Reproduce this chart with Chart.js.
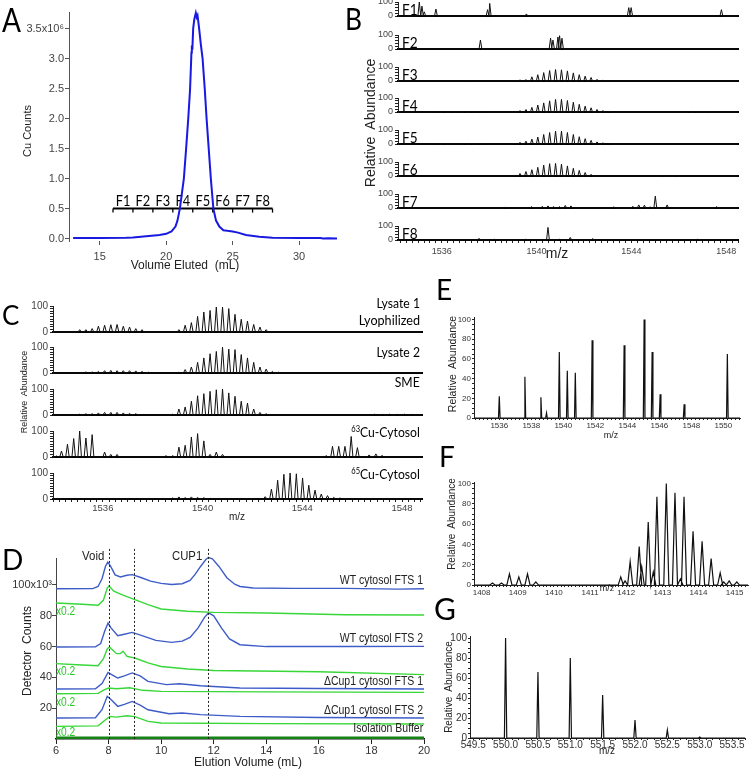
<!DOCTYPE html>
<html>
<head>
<meta charset="utf-8">
<title>Cu fractions and spectra</title>
<script src="https://cdn.jsdelivr.net/npm/chart.js@4.4.1/dist/chart.umd.min.js"></script>
<style>
  html, body { margin: 0; padding: 0; background: #fff; overflow: hidden; }
  #fig { position: relative; width: 749px; height: 772px; font-family: "Liberation Sans", Arial, sans-serif; color: #222; }
  #fig canvas { position: absolute; }
  .t { position: absolute; line-height: 1; white-space: nowrap; }
  .lato { font-family: Lato, "Open Sans", sans-serif; color: #000; }
  sup { font-size: 0.62em; vertical-align: 0; position: relative; top: -0.55em; line-height: 0; }
</style>
</head>
<body>
<div id="fig"></div>
<script>
// ---------- panel A: Cu elution profile ----------
const aElution = [[13.0,0.01],[15.0,0.01],[17.0,0.015],[17.5,0.02],[18.5,0.04],[19.5,0.06],[20.0,0.08],[20.4,0.12],[20.7,0.2],[20.85,0.3],[21.03,0.5],[21.18,0.75],[21.33,1.0],[21.5,1.5],[21.66,2.0],[21.8,2.5],[21.9,3.1],[21.93,3.22],[21.97,3.15],[22.03,3.5],[22.12,3.66],[22.23,3.76],[22.3,3.69],[22.36,3.72],[22.48,3.5],[22.6,3.25],[22.74,3.0],[22.9,2.5],[23.04,2.0],[23.2,1.5],[23.36,1.0],[23.55,0.5],[23.75,0.3],[24.0,0.2],[24.3,0.14],[24.6,0.13],[25.0,0.12],[25.4,0.1],[26.0,0.06],[27.0,0.03],[28.0,0.015],[30.0,0.01],[31.6,0.01],[31.8,0.0],[32.2,0.005],[32.85,0.0]];
const aXTicks = [15, 20, 25, 30];
const aYTicks = [0, 0.5, 1, 1.5, 2, 2.5, 3, 3.5];
const fracNames = ['F1', 'F2', 'F3', 'F4', 'F5', 'F6', 'F7', 'F8'];
const fracEdges = [16, 17.5, 19, 20.5, 22, 23.5, 25, 26.5, 28];

// ---------- panel B: spectra of fractions F1-F8 (m/z, %) ----------
const bF1 = [[1535.05,100],[1535.16,70],[1535.26,30],[1535.75,50],[1537.93,45],[1538.02,90],[1539.57,15],[1543.89,60],[1543.99,60],[1547.8,45]];
const bF2 = [[1537.63,64],[1540.59,77],[1540.69,64],[1540.9,86],[1540.97,95],[1541.07,77]];
const bF3 = [[1537.2,4],[1539.05,3],[1539.30,8],[1539.55,10],[1539.80,30],[1540.05,45],[1540.30,60],[1540.55,75],[1540.80,82],[1541.05,80],[1541.30,72],[1541.55,58],[1541.80,45],[1542.05,35],[1542.30,25],[1542.55,12],[1542.80,6],[1546.1,2]];
const bF4 = [[1535.81,4],[1536.10,4],[1536.39,4],[1536.68,4],[1536.97,4],[1537.26,4],[1537.55,4],[1537.84,4],[1539.30,10],[1539.55,18],[1539.80,33],[1540.05,50],[1540.30,65],[1540.55,80],[1540.80,90],[1541.05,90],[1541.30,82],[1541.55,70],[1541.80,55],[1542.05,42],[1542.30,30],[1542.55,18],[1542.80,10],[1543.05,5],[1546.45,3],[1546.70,3],[1546.95,3],[1547.20,3]];
const bF5 = [[1535.81,3],[1536.10,3],[1536.39,3],[1536.68,3],[1536.97,3],[1537.26,3],[1537.55,3],[1537.84,3],[1539.05,5],[1539.30,12],[1539.55,20],[1539.80,35],[1540.05,50],[1540.30,68],[1540.55,82],[1540.80,92],[1541.05,92],[1541.30,82],[1541.55,68],[1541.80,52],[1542.05,38],[1542.30,26],[1542.55,15],[1542.80,8],[1543.05,4]];
const bF6 = [[1539.05,5],[1539.30,18],[1539.55,32],[1539.80,45],[1540.05,62],[1540.30,78],[1540.55,88],[1540.80,90],[1541.05,85],[1541.30,72],[1541.55,55],[1541.80,40],[1542.05,25],[1542.30,12],[1545.3,3],[1545.9,3]];
const bF7 = [[1538.7,5],[1539.78,10],[1540.24,12],[1540.48,15],[1540.72,10],[1540.97,10],[1541.21,18],[1541.45,15],[1543.26,8],[1544.06,12],[1544.31,22],[1544.55,20],[1544.79,8],[1545.01,85],[1545.51,22],[1547.6,10]];
const bF8 = [[1537.57,12],[1538.23,5],[1539.53,5],[1540.48,90],[1540.97,5],[1541.42,18],[1542.37,10],[1546.79,5]];
const bRows = ['F1', 'F2', 'F3', 'F4', 'F5', 'F6', 'F7', 'F8'];
const bXLabels = [1536, 1540, 1544, 1548];

// ---------- panel C: lysates and cytosols ----------
const cLysate1 = [[1535.07,9],[1535.32,9],[1535.57,13],[1535.82,22],[1536.07,26],[1536.32,28],[1536.57,29],[1536.82,22],[1537.07,19],[1537.32,13],[1537.57,9],[1539.05,9],[1539.30,26],[1539.55,36],[1539.80,60],[1540.05,77],[1540.30,83],[1540.55,96],[1540.80,96],[1541.05,90],[1541.30,68],[1541.55,49],[1541.80,42],[1542.05,29],[1542.30,19],[1542.55,9]];
const cLysate2 = [[1535.32,4],[1535.57,4],[1535.82,6],[1536.07,9],[1536.32,10],[1536.57,9],[1536.82,9],[1537.07,9],[1537.32,8],[1537.57,6],[1537.82,3],[1539.05,3],[1539.30,13],[1539.55,23],[1539.80,41],[1540.05,58],[1540.30,74],[1540.55,83],[1540.80,99],[1541.05,92],[1541.30,90],[1541.55,71],[1541.80,58],[1542.05,41],[1542.30,23],[1542.55,15],[1542.80,6],[1543.05,3],[1546.80,2],[1547.10,2],[1547.40,2],[1547.70,2],[1548.00,2],[1548.30,2],[1548.60,2]];
const cSME = [[1535.07,3],[1535.32,5],[1535.57,5],[1535.82,8],[1536.07,10],[1536.32,10],[1536.57,10],[1536.82,8],[1537.07,6],[1537.32,5],[1538.80,3],[1539.05,23],[1539.30,31],[1539.55,53],[1539.80,74],[1540.05,82],[1540.30,91],[1540.55,97],[1540.80,100],[1541.05,85],[1541.30,72],[1541.55,53],[1541.80,46],[1542.05,23],[1542.30,10],[1542.55,5],[1546.90,3],[1547.20,3],[1547.50,3],[1547.80,3],[1548.10,3],[1548.40,3]];
const c63Cu = [[1534.14,4],[1534.34,23],[1534.58,49],[1534.83,71],[1535.07,100],[1535.32,73],[1535.57,86],[1536.07,19],[1536.32,10],[1536.57,10],[1538.53,5],[1538.80,5],[1539.05,38],[1539.30,45],[1539.55,77],[1539.80,90],[1540.05,62],[1540.30,10],[1540.55,19],[1540.80,10],[1544.96,5],[1545.21,41],[1545.46,41],[1545.71,41],[1545.96,79],[1546.21,36],[1546.68,8],[1546.95,12],[1547.20,6]];
const c65Cu = [[1538.80,4],[1539.05,8],[1539.30,5],[1539.55,8],[1539.80,6],[1540.05,5],[1540.30,3],[1542.26,3],[1542.51,9],[1542.76,38],[1543.01,72],[1543.26,95],[1543.51,100],[1543.76,97],[1544.01,81],[1544.26,53],[1544.51,34],[1544.76,19],[1545.01,13],[1545.26,6],[1545.51,4]];
const cXLabels = [1536, 1540, 1544, 1548];

// ---------- panel D: SEC traces (x10^3 counts) ----------
const dWT1 = [[6,97.5],[7.4,97.6],[7.6,99],[7.75,104],[7.88,112],[7.97,114.8],[8.08,112],[8.25,106.5],[8.45,105.2],[8.7,106.3],[8.9,106.7],[9.2,105],[9.6,102.5],[10.0,101],[10.4,100.3],[10.8,100.8],[11.1,103],[11.3,107],[11.5,112],[11.7,116.5],[11.8,117.8],[11.95,117],[12.2,112],[12.5,104.7],[12.8,100.5],[13.0,99],[13.5,98],[15,97.8],[17,97.8],[19,97.3],[20,97.5]];
const dWT1cu = [[6,88.3],[7,87.5],[7.6,86.8],[7.8,90],[7.95,98],[8.02,99.3],[8.2,96],[8.5,93.7],[9.0,90.5],[9.5,87.2],[10.0,84.4],[11.0,82.9],[12.0,82.2],[14.0,81.8],[17.0,80.7],[20.0,80.5]];
const dWT2 = [[6,59.7],[7.5,59.8],[7.7,62],[7.85,70],[7.98,75.3],[8.1,72],[8.35,67],[8.6,68],[8.9,69.2],[9.3,67],[9.8,64],[10.4,62.7],[10.8,63.5],[11.1,66],[11.4,72],[11.65,79],[11.8,81.8],[12.0,80],[12.3,72],[12.6,65],[13.0,61.2],[14,60],[17,60],[20,60.1]];
const dWT2cu = [[6,48.9],[7.0,48],[7.6,47.6],[7.8,52],[7.95,58.5],[8.03,59.7],[8.3,55.4],[8.45,55.5],[8.55,57],[8.7,53.6],[9.0,52.6],[9.5,49.4],[10.0,47.1],[11.0,45.4],[12.0,44.5],[16.0,43.7],[20.0,41.8]];
const dCup1a = [[6,32.5],[7.5,32.6],[7.75,36],[7.98,43.2],[8.15,41.5],[8.35,39.6],[8.6,41],[8.9,42.9],[9.2,41],[9.5,37.4],[10.2,35.3],[10.7,35.9],[11.5,34.6],[13,33.1],[16,32.8],[20,32.5]];
const dCup1aCu = [[6,29.4],[7.6,29.6],[7.85,32],[8.0,33.1],[8.3,32.6],[8.8,33.3],[9.3,31.6],[10,30.9],[14,30.6],[20,30.3]];
const dCup1b = [[6,13.6],[7.5,13.8],[7.75,19],[7.95,27.7],[8.1,25.5],[8.35,21.2],[8.6,22.5],[8.9,24.4],[9.2,22],[9.5,19],[10.3,16.4],[10.8,16.9],[11.5,15.8],[13,14.7],[16,14],[20,13.6]];
const dCup1bCu = [[6,8.2],[7.6,8.5],[7.85,12],[8.05,14.7],[8.3,14.2],[8.7,15.1],[9.0,14.5],[9.5,11.4],[10,10.4],[14,10],[20,9.7]];
const dBuffer = [[6,0.8],[20,0.8]];
const dMarks = [8.0, 8.95, 11.8];
const dXTicks = [6, 8, 10, 12, 14, 16, 18, 20];
const dYTicks = [20, 40, 60, 80, 100];
const dNames = ['WT cytosol FTS 1', 'WT cytosol FTS 2', 'ΔCup1 cytosol FTS 1', 'ΔCup1 cytosol FTS 2', 'Isolation Buffer'];

// ---------- panels E, F, G ----------
const ePeaks = [[1536.0,22],[1537.6,42],[1538.6,21],[1538.95,5],[1539.75,67],[1540.25,48],[1540.75,46],[1541.8,79],[1543.8,74],[1545.05,100],[1545.55,67],[1546.05,24],[1547.55,14],[1550.25,65]];
const eXLabels = [1536, 1538, 1540, 1542, 1544, 1546, 1548, 1550];
const fPeaks = [[1408.3,2],[1408.55,2],[1408.77,11],[1409.03,8],[1409.27,11],[1409.5,3],[1411.85,8],[1411.97,4],[1412.11,23],[1412.36,38],[1412.43,18],[1412.61,62],[1412.75,13],[1412.85,87],[1413.11,100],[1413.35,91],[1413.5,6],[1413.6,87],[1413.85,53],[1414.1,43],[1414.35,26],[1414.6,12],[1414.7,3],[1414.85,4],[1415.06,3]];
const fXLabels = [1408, 1409, 1410, 1411, 1412, 1413, 1414, 1415];
const gPeaks = [[550.0,100],[550.5,66],[551.0,80],[551.5,43],[552.0,18],[552.5,8],[553.0,1]];
const gXLabels = [549.5, 550.0, 550.5, 551.0, 551.5, 552.0, 552.5, 553.0, 553.5];
const abundTicks = [0, 20, 40, 60, 80, 100];

// ---------- helpers ----------
const fig = document.getElementById('fig');
const SANS = '"Liberation Sans", Arial, sans-serif';

function label(html, x, base, size, o = {}) {
  const d = document.createElement('div');
  d.className = 't' + (o.lato ? ' lato' : '');
  d.innerHTML = html;
  d.style.fontSize = size + 'px';
  d.style.top = (base - (o.lato ? 0.887 : 0.847) * size) + 'px';
  if (o.color) d.style.color = o.color;
  const sx = o.sx ? ` scaleX(${o.sx})` : '';
  if (o.align === 'right') {
    d.style.right = (749 - x) + 'px';
    d.style.transformOrigin = 'right center';
    d.style.transform = sx;
  } else if (o.align === 'center') {
    d.style.left = x + 'px';
    d.style.transform = 'translateX(-50%)' + sx;
  } else {
    d.style.left = x + 'px';
    d.style.transformOrigin = 'left center';
    d.style.transform = sx;
  }
  fig.appendChild(d);
}

function vlabel(html, cx, cy, size) {
  const d = document.createElement('div');
  d.className = 't';
  d.innerHTML = html;
  d.style.fontSize = size + 'px';
  d.style.left = cx + 'px';
  d.style.top = cy + 'px';
  d.style.transform = 'translate(-50%,-50%) rotate(-90deg)';
  fig.appendChild(d);
}

function steps(lo, hi, step) {
  const out = [];
  for (let v = lo; v <= hi + 1e-9; v += step) out.push(+v.toFixed(4));
  return out;
}
const isIn = (list, v) => list.some(m => Math.abs(m - v) < 1e-6);

// peaks -> narrow spikes on a zero baseline
function spikes(peaks, w, lo, hi) {
  const pts = [{ x: lo, y: 0 }];
  peaks.slice().sort((a, b) => a[0] - b[0]).forEach(([mz, ab]) => {
    pts.push({ x: mz - w, y: 0 }, { x: mz, y: ab }, { x: mz + w, y: 0 });
  });
  pts.push({ x: hi, y: 0 });
  return pts;
}
function spectrum(peaks, w, range, lw) {
  return { data: spikes(peaks, w, range[0], range[1]), borderColor: '#111', borderWidth: lw || 1, pointRadius: 0, clip: false };
}
function trace(pairs, color, lw) {
  return { data: pairs.map(([x, y]) => ({ x, y })), borderColor: color, borderWidth: lw || 1.4, pointRadius: 0, clip: false };
}

function linAxis(min, max, tickVals, labelVals, fmt, o = {}) {
  return {
    type: 'linear', min, max,
    afterBuildTicks: s => { s.ticks = tickVals.map(v => ({ value: v })); },
    ticks: {
      autoSkip: false, maxRotation: 0, minRotation: 0,
      padding: o.pad !== undefined ? o.pad : 2,
      color: o.color || '#333',
      font: { size: o.size || 9, family: SANS },
      callback: v => isIn(labelVals, v) ? fmt(v) : ''
    },
    grid: { display: true, drawOnChartArea: false, drawTicks: true, tickLength: o.tick !== undefined ? o.tick : 3, color: o.tickColor || '#222', lineWidth: 1 },
    border: { display: o.border !== false, color: o.borderColor || '#222', width: o.bw || 1 }
  };
}
function bareX(range, bw) {
  return { type: 'linear', min: range[0], max: range[1], ticks: { display: false }, grid: { display: false }, border: { display: true, color: '#000', width: bw } };
}

// box: chart area (l,t,r,b) plus y-axis width, x-axis height and paddings
function chartAt(box, cfg) {
  const left = box.l - box.yW, top = box.t - box.pt;
  const w = Math.round(box.r + box.pr - left), h = Math.round(box.b + box.xH + box.pb - top);
  const cv = document.createElement('canvas');
  cv.width = w; cv.height = h;
  cv.style.left = left + 'px'; cv.style.top = top + 'px';
  cv.style.width = w + 'px'; cv.style.height = h + 'px';
  fig.appendChild(cv);
  const zeroPad = s => { s.paddingLeft = s.paddingRight = s.paddingTop = s.paddingBottom = 0; };
  cfg.x.afterFit = s => { s.height = box.xH; zeroPad(s); };
  cfg.y.afterFit = s => { s.width = box.yW; zeroPad(s); };
  return new Chart(cv, {
    type: 'line',
    data: { datasets: cfg.datasets },
    options: {
      responsive: false, animation: false, devicePixelRatio: 1,
      layout: { padding: { left: 0, top: box.pt, right: box.pr, bottom: box.pb } },
      plugins: { legend: { display: false }, tooltip: { enabled: false } },
      elements: { point: { radius: 0 }, line: { tension: 0 } },
      scales: { x: cfg.x, y: cfg.y }
    },
    plugins: cfg.plugins || []
  });
}

// ---------- A ----------
const fractionBracket = {
  id: 'fractionBracket',
  beforeDatasetsDraw(chart) {
    const { ctx, scales: { x, y } } = chart;
    const yy = y.getPixelForValue(0.5);
    ctx.save();
    ctx.strokeStyle = '#000';
    ctx.lineWidth = 2;
    ctx.beginPath();
    ctx.moveTo(x.getPixelForValue(fracEdges[0]), yy);
    ctx.lineTo(x.getPixelForValue(fracEdges[fracEdges.length - 1]), yy);
    ctx.stroke();
    ctx.lineWidth = 1.3;
    fracEdges.forEach(e => {
      const px = x.getPixelForValue(e);
      ctx.beginPath(); ctx.moveTo(px, yy); ctx.lineTo(px, yy + 4); ctx.stroke();
    });
    ctx.fillStyle = '#000';
    ctx.font = '16px Lato, "Open Sans", sans-serif';
    ctx.textAlign = 'center';
    ctx.textBaseline = 'alphabetic';
    fracNames.forEach((n, i) => {
      ctx.save();
      ctx.translate(x.getPixelForValue((fracEdges[i] + fracEdges[i + 1]) / 2), yy - 3);
      ctx.scale(0.8, 1);
      ctx.fillText(n, 0, 0);
      ctx.restore();
    });
    ctx.restore();
  }
};
chartAt({ l: 69, t: 12, r: 337, b: 241, yW: 69, xH: 34, pt: 12, pr: 8, pb: 0 }, {
  datasets: [trace(aElution, 'rgb(25,25,225)', 2)],
  x: linAxis(12.69, 32.85, aXTicks, aXTicks, v => v, { size: 11, tick: 4, pad: 5, border: false, tickColor: '#555', color: '#444' }),
  y: linAxis(-0.04, 3.777, aYTicks, aYTicks, v => v === 3.5 ? '3.5x10⁶' : v.toFixed(1), { size: 11, tick: 4, pad: 1, tickColor: '#555', borderColor: '#555', color: '#444' }),
  plugins: [fractionBracket]
});

// ---------- B ----------
const bPeaks = [bF1, bF2, bF3, bF4, bF5, bF6, bF7, bF8];
const bBase = [16, 49, 81, 112, 144, 176, 208, 240];
const bRange = [1534.15, 1548.5];
bRows.forEach((name, i) => {
  const last = i === bRows.length - 1, base = bBase[i];
  chartAt({ l: 398, r: 738, t: base - 14, b: base, yW: 43, xH: last ? 22 : 0, pt: 7, pr: 4, pb: last ? 0 : 6 }, {
    datasets: [spectrum(bPeaks[i], 0.06, bRange)],
    x: last ? linAxis(bRange[0], bRange[1], steps(1534.25, 1548.5, 0.25), bXLabels, v => v, { size: 9, tick: 3, pad: 3, bw: 2, borderColor: '#000', color: '#444' })
            : bareX(bRange, 2),
    y: linAxis(0, 100, steps(0, 100, 20), [0, 100], v => v, { size: 9, tick: 3, pad: 2, color: '#444' })
  });
  label(name, 402, base - 1, 16, { lato: true, sx: 0.85 });
});

// ---------- C ----------
const cPeaks = [cLysate1, cLysate2, cSME, c63Cu, c65Cu];
const cBase = [331.7, 373.3, 415.3, 456.7, 499];
const cRange = [1534.0, 1548.8];
cPeaks.forEach((pk, i) => {
  const last = i === cPeaks.length - 1, base = cBase[i];
  chartAt({ l: 53, r: 422, t: base - 26, b: base, yW: 53, xH: last ? 14 : 0, pt: 6, pr: 3, pb: last ? 0 : 6 }, {
    datasets: [spectrum(pk, 0.07, cRange)],
    x: last ? linAxis(cRange[0], cRange[1], steps(1534.0, 1548.75, 0.25), cXLabels, v => v, { size: 9.5, tick: 3, pad: 1, bw: 2, borderColor: '#000', color: '#444' })
            : bareX(cRange, 2),
    y: linAxis(0, 100, steps(0, 100, 10), [0, 100], v => v, { size: 10, tick: 3, pad: 2, color: '#444' })
  });
});

// ---------- D ----------
const dashMarks = {
  id: 'dashMarks',
  afterDatasetsDraw(chart) {
    const { ctx, chartArea, scales: { x, y } } = chart;
    ctx.save();
    ctx.strokeStyle = '#222';
    ctx.lineWidth = 1;
    ctx.setLineDash([2, 2]);
    dMarks.forEach(m => {
      const px = Math.round(x.getPixelForValue(m)) + 0.5;
      ctx.beginPath(); ctx.moveTo(px, y.getPixelForValue(123.4)); ctx.lineTo(px, chartArea.bottom); ctx.stroke();
    });
    ctx.restore();
  }
};
const blue = 'rgb(62,92,200)', green = 'rgb(55,215,55)';
chartAt({ l: 56, t: 558, r: 424, b: 739, yW: 56, xH: 33, pt: 13, pr: 6, pb: 0 }, {
  datasets: [
    trace(dWT1, blue), trace(dWT1cu, green), trace(dWT2, blue), trace(dWT2cu, green),
    trace(dCup1a, blue), trace(dCup1aCu, green), trace(dCup1b, blue), trace(dCup1bCu, green),
    trace(dBuffer, 'rgb(20,130,20)', 2.5)
  ],
  x: linAxis(6, 20, dXTicks, dXTicks, v => v, { size: 11, tick: 5, pad: 0, bw: 1.5, borderColor: '#111', color: '#333' }),
  y: linAxis(0, 117.5, dYTicks, dYTicks, v => v === 100 ? '100x10³' : v, { size: 11, tick: 4, pad: 0, borderColor: '#444', tickColor: '#444', color: '#333' }),
  plugins: [dashMarks]
});

// ---------- E ----------
chartAt({ l: 474, t: 316.7, r: 740, b: 417.7, yW: 44, xH: 14, pt: 5, pr: 5, pb: 0 }, {
  datasets: [spectrum(ePeaks, 0.05, [1534.42, 1551.04], 1.2)],
  x: linAxis(1534.42, 1551.04, steps(1534.5, 1551, 0.25), eXLabels, v => v, { size: 8, tick: 2, pad: 1 }),
  y: linAxis(0, 102.6, steps(0, 100, 5), abundTicks, v => v, { size: 8, tick: 2, pad: 1 })
});

// ---------- F ----------
chartAt({ l: 474, t: 481.7, r: 748, b: 585, yW: 44, xH: 13, pt: 5, pr: 1, pb: 0 }, {
  datasets: [spectrum(fPeaks, 0.07, [1407.79, 1415.37], 1.2)],
  x: linAxis(1407.79, 1415.37, steps(1407.8, 1415.3, 0.1), fXLabels, v => v, { size: 8, tick: 2, pad: 1 }),
  y: linAxis(0, 101.6, steps(0, 100, 5), abundTicks, v => v, { size: 8, tick: 2, pad: 1 })
});

// ---------- G ----------
chartAt({ l: 470, t: 636, r: 745, b: 738, yW: 40, xH: 12, pt: 6, pr: 4, pb: 0 }, {
  datasets: [spectrum(gPeaks, 0.018, [549.45, 553.7], 1.2)],
  x: linAxis(549.45, 553.7, steps(549.5, 553.7, 0.1), gXLabels, v => v.toFixed(1), { size: 10, tick: 2, pad: -1 }),
  y: linAxis(0, 102, steps(0, 100, 5), abundTicks, v => v, { size: 10, tick: 2, pad: 1 })
});

// ---------- text ----------
label('A', 2, 32, 33, { lato: true, sx: 0.85 });
label('B', 345, 30, 31, { lato: true, sx: 0.85 });
label('C', 2, 325, 26, { lato: true });
label('D', 2, 570, 28, { lato: true });
label('E', 436, 300, 28, { lato: true });
label('F', 439, 467, 28, { lato: true });
label('G', 434, 620, 30, { lato: true });

vlabel('Cu Counts', 27, 131, 11);
label('Volume Eluted&nbsp; (mL)', 185, 269, 12, { align: 'center' });

vlabel('Relative&nbsp; Abundance', 370, 123, 14);
label('m/z', 557, 258, 14, { align: 'center' });

vlabel('Relative&nbsp; Abundance', 24, 392, 9);
label('m/z', 237, 520, 10, { align: 'center' });
label('Lysate 1', 420, 308, 14, { lato: true, align: 'right', sx: 0.87 });
label('Lyophilized', 420, 325, 14, { lato: true, align: 'right', sx: 0.9 });
label('Lysate 2', 420, 357, 14, { lato: true, align: 'right', sx: 0.87 });
label('SME', 420, 387, 14, { lato: true, align: 'right', sx: 0.87 });
label('<sup>63</sup>Cu-Cytosol', 420, 437, 14, { lato: true, align: 'right', sx: 0.87 });
label('<sup>65</sup>Cu-Cytosol', 420, 479, 14, { lato: true, align: 'right', sx: 0.87 });

vlabel('Detector&nbsp; Counts', 27, 651, 12);
label('Elution Volume (mL)', 248, 766, 12, { align: 'center' });
label('Void', 104, 560, 13, { align: 'right', sx: 0.88 });
label('CUP1', 172, 560, 13, { sx: 0.87 });
[585, 643, 686, 715, 733].forEach((y, i) => label(dNames[i], 423, y, 12.5, { align: 'right', sx: 0.84 }));
[615, 675, 706, 736].forEach(y => label('x0.2', 56, y, 12, { color: 'rgb(40,200,40)', sx: 0.85 }));

vlabel('Relative&nbsp; Abundance', 452, 364, 10.5);
label('m/z', 611, 439, 9, { align: 'center' });
vlabel('Relative&nbsp; Abundance', 452, 524, 10);
label('m/z', 607, 592, 9, { align: 'center' });
vlabel('Relative&nbsp; Abundance', 449, 687, 10);
label('m/z', 607, 754, 10, { align: 'center' });
</script>
</body>
</html>
